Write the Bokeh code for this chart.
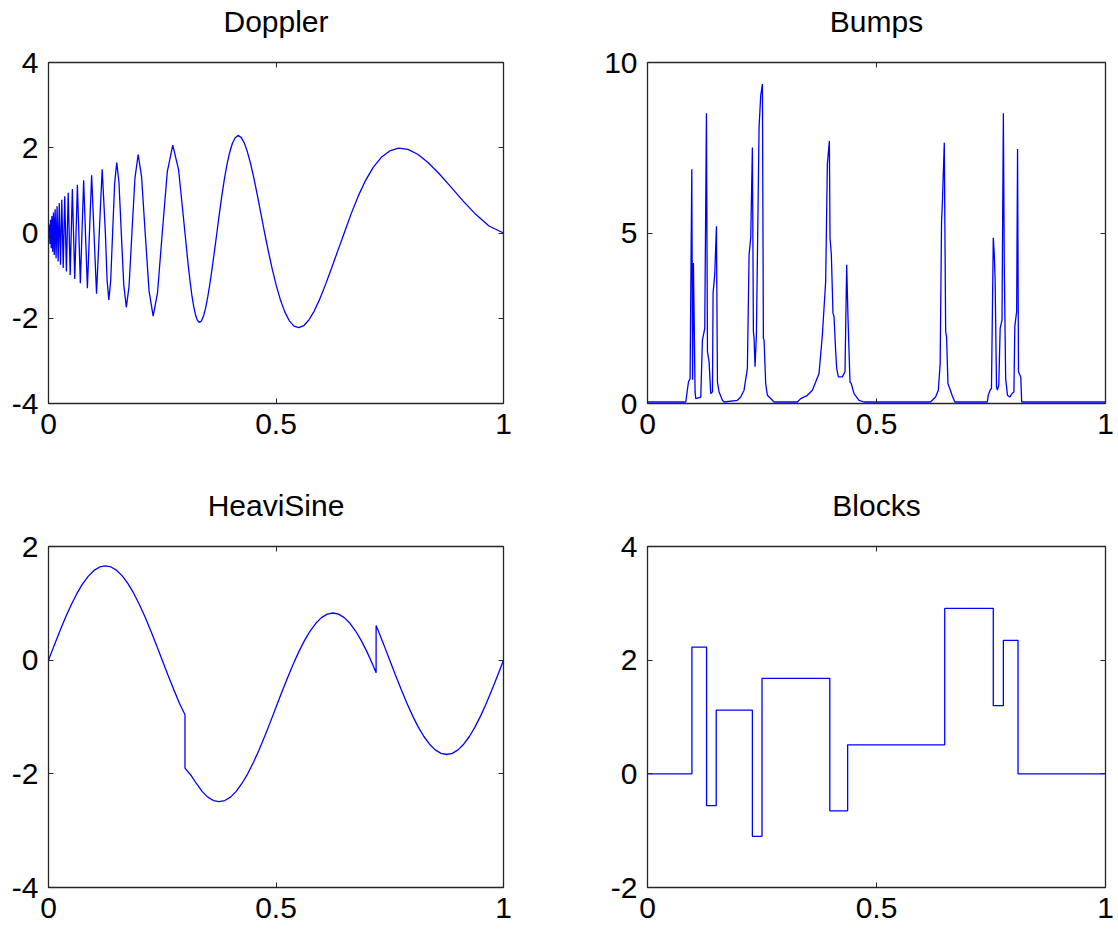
from bokeh.plotting import figure
from bokeh.layouts import column, row
from bokeh.models import LinearAxis, FixedTicker, Range1d, CustomLabelingPolicy
from bokeh.embed import file_html
from bokeh.resources import INLINE

# ---------------- data ----------------
doppler_t = [0, .0006, .00122, .00185, .0025, .00316, .00385, .00455, .00526, .006,
             .00676, .00753, .00833, .00915, .01, .01087, .01176, .01269, .01364, .01462,
             .015625, .01667, .01774, .01885, .02, .02119, .02241, .02368, .025, .02636,
             .02778, .02925, .03077, .03235, .034, .03571, .0375, .03936, .0413, .04333,
             .04545, .04767, .05, .05244, .055, .05769, .06053, .06351, .06667, .07,
             .07353, .07727, .08125, .08548, .09, .09483, .1, .10556, .11154, .118,
             .125, .12872, .13261, .13667, .14091, .14535, .15, .15488, .16, .16538,
             .17105, .17703, .18333, .19, .19706, .20455, .2125, .22097, .23, .23966,
             .25, .26111, .27308, .286,
             .30, .30368, .30745, .31129, .31522, .31923, .32333, .32753, .33182, .33621,
             .3407, .34529, .35, .35482, .35976, .36481, .37, .37532, .38077, .38636,
             .39211, .398, .40405, .41027, .41667, .42324, .43, .43696, .44412, .45149,
             .45909, .46692, .475, .48333, .49194, .50082, .51, .51949, .52931, .53947,
             .55, .56091, .57222, .58396, .59615, .60882, .622, .63571, .65, .66489,
             .68043, .69667, .71364, .7314, .75, .76951, .79, .81154, .83421, .85811,
             .88333, .91, .93824, .96818, 1.0]
doppler_y = [0, -.113, 0, .199, 0, -.260, 0, .312, 0, -.358,
             0, .400, 0, -.441, 0, .480, 0, -.518, 0, .556,
             0, -.593, 0, .630, 0, -.667, 0, .704, 0, -.742,
             0, .780, 0, -.819, 0, .859, 0, -.900, 0, .943,
             0, -.987, 0, 1.032, 0, -1.080, 0, 1.129, 0, -1.181,
             0, 1.236, 0, -1.295, 0, 1.357, 0, -1.423, 0, 1.494,
             0, -1.096, -1.570, -1.125, 0, 1.154, 1.653, 1.184, 0, -1.216,
             -1.743, -1.250, 0, 1.284, 1.842, 1.321, 0, -1.358, -1.948, -1.397,
             0, 1.438, 2.063, 1.479,
             0, -.400, -.79, -1.147, -1.47, -1.728, -1.93, -2.053, -2.10, -2.066,
             -1.95, -1.763, -1.50, -1.185, -.82, -.419, 0, .437, .86, 1.252,
             1.60, 1.884, 2.10, 2.234, 2.29, 2.244, 2.12, 1.910, 1.63, 1.280,
             .88, .451, 0, -.436, -.855, -1.241, -1.580, -1.856, -2.060, -2.184,
             -2.22, -2.175, -2.042, -1.831, -1.551, -1.211, -.829, -.419, 0, .443,
             .859, 1.230, 1.539, 1.775, 1.926, 1.989, 1.961, 1.847, 1.655, 1.397,
             1.093, .766, .444, .165, 0]

bumps_t = [0, .0836, .0894, .0930, .0967, .0985, .1003, .1039, .1054, .1163,
           .1199, .1250, .1287, .1309, .1345, .1381, .1418, .1432, .1468, .1505,
           .1527, .1563, .1636, .1672, .1963, .2036, .2108, .2181, .2218, .2254,
           .2290, .2312, .2327, .2348, .2378, .2436, .2472, .2509, .2530, .2545,
           .2581, .2618, .2727, .2763, .3272, .3345, .3490, .3600, .3672, .3745,
           .3818, .3890, .3927, .3971, .3985, .4014, .4050, .4072, .4109, .4131,
           .4167, .4254, .4312, .4349, .4378, .4421, .4450, .4509, .4618, .4727,
           .6180, .6290, .6350, .6390, .6420, .6440, .6480, .6510, .6530, .6560,
           .6600, .6650, .6710, .7420, .7440, .7480, .7510, .7550, .7570, .7590,
           .7620, .7640, .7670, .7700, .7740, .7770, .7790, .7820, .7860, .7910,
           .7960, .8000, .8020, .8060, .8080, .8100, .8150, .8170, 1.0]
bumps_y = [.044, .044, .63, .73, 6.87, .70, 4.12, .34, .14, .19,
           1.86, 2.20, 8.51, 1.52, 1.22, .29, .34, 3.24, 3.78, 5.20,
           .63, .34, .093, .044, .093, .19, .39, 1.03, 4.36, 4.86,
           7.51, 2.11, 1.91, 1.08, 2.01, 8.10, 9.03, 9.37, 1.91, 1.86,
           .58, .24, .093, .044, .044, .142, .24, .39, .63, .88,
           2.01, 3.58, 7.02, 7.70, 4.86, 4.36, 2.65, 2.55, 1.52, 1.03,
           .78, .78, .93, 4.07, 2.50, .63, .58, .29, .093, .044,
           .044, .191, .39, 1.17, 5.30, 5.94, 7.65, 2.11, 1.96, .58,
           .44, .24, .044, .044, .24, .39, .44, 4.86, 4.41, 3.63,
           .49, .39, .54, 2.20, 2.45, 8.51, 4.02, .73, .24, .19,
           .29, .34, 2.25, 2.70, 7.46, .93, .78, .044, .044]

heavi_t = [0, .0125, .025, .0375, .05, .0625, .075, .0875, .1, .1125, .125, .1375,
           .15, .1625, .175, .1875, .2, .2125, .225, .2375, .25, .2625, .275, .2875,
           .3, .3, .3125, .325, .3375, .35, .3625, .375, .3875, .4, .4125, .425,
           .4375, .45, .4625, .475, .4875, .5, .5125, .525, .5375, .55, .5625, .575,
           .5875, .6, .6125, .625, .6375, .65, .6625, .675, .6875, .7, .7125, .72,
           .72, .725, .7375, .75, .7625, .775, .7875, .8, .8125, .825, .8375, .85,
           .8625, .875, .8875, .9, .9125, .925, .9375, .95, .9625, .975, .9875, 1.0]
heavi_y = [0, .260, .513, .754, .976, 1.174, 1.343, 1.479, 1.579, 1.640, 1.660, 1.640,
           1.579, 1.479, 1.343, 1.174, .976, .754, .513, .260, 0, -.260, -.513, -.754,
           -.96, -1.90, -2.02, -2.17, -2.309, -2.41, -2.47, -2.49, -2.47, -2.41, -2.309, -2.17,
           -2.004, -1.806, -1.584, -1.343, -1.090, -.830, -.570, -.317, -.076, .146, .344, .513,
           .649, .749, .810, .830, .810, .749, .649, .513, .344, .146, -.076, -.22,
           .611, .513, .260, 0, -.260, -.513, -.754, -.976, -1.174, -1.343, -1.479, -1.579,
           -1.640, -1.660, -1.640, -1.579, -1.479, -1.343, -1.174, -.976, -.754, -.513, -.260, 0]

blocks_t = [0, .097, .129, .150, .229, .250, .398, .437, .649, .755, .777, .809, 1.0]
blocks_y = [0, 2.23, -.56, 1.12, -1.10, 1.68, -.65, .51, 2.91, 1.20, 2.35, 0, 0]

titles = ["Doppler", "Bumps", "HeaviSine", "Blocks"]
x_ticks = [0, 0.5, 1]
x_tick_labels = ["0", "0.5", "1"]
y_limits = [(-4, 4), (0, 10), (-4, 2), (-2, 4)]
y_ticks = [[-4, -2, 0, 2, 4], [0, 5, 10], [-4, -2, 0, 2], [-2, 0, 2, 4]]
y_tick_labels = [["-4", "-2", "0", "2", "4"], ["0", "5", "10"],
                 ["-4", "-2", "0", "2"], ["-2", "0", "2", "4"]]

FONT = "Liberation Sans"
AX = "#262626"


def make(i, fw, left, right, top, bottom):
    lo, hi = y_limits[i]
    p = figure(frame_width=fw, frame_height=341, x_range=Range1d(0, 1),
               y_range=Range1d(lo, hi), output_backend="svg", toolbar_location=None,
               min_border_left=left, min_border_right=right, min_border_top=top,
               min_border_bottom=bottom, x_axis_location=None, y_axis_location=None)
    p.xgrid.visible = False
    p.ygrid.visible = False
    p.outline_line_color = AX
    p.outline_line_width = 1.3
    p.background_fill_color = "white"
    p.border_fill_color = "white"

    xo = {t: l for t, l in zip(x_ticks, x_tick_labels)}
    yo = {t: l for t, l in zip(y_ticks[i], y_tick_labels[i])}
    for loc, ticks, over, show in (("below", x_ticks, xo, True), ("above", x_ticks, xo, False),
                                   ("left", y_ticks[i], yo, True), ("right", y_ticks[i], yo, False)):
        ax = LinearAxis(ticker=FixedTicker(ticks=ticks))
        ax.major_label_overrides = over
        ax.axis_line_color = None
        ax.major_tick_in = 5
        ax.major_tick_out = 0
        ax.major_tick_line_color = AX
        ax.minor_tick_line_color = None
        if show:
            ax.major_label_text_font = FONT
            ax.major_label_text_font_size = "30px"
            ax.major_label_text_color = "black"
            ax.major_label_standoff = 10
        else:
            ax.major_label_policy = CustomLabelingPolicy(code="return new Set()")
            ax.major_label_standoff = 0
        if loc == "above":
            # the subplot title sits on the top (mirror) axis
            ax.axis_label = titles[i]
            ax.axis_label_text_font = FONT
            ax.axis_label_text_font_size = "30px"
            ax.axis_label_text_font_style = "normal"
            ax.axis_label_text_color = "black"
            ax.axis_label_standoff = 14
        p.add_layout(ax, loc)
    return p


p1 = make(0, 455, 48, 40, 62, 81)
p1.line(doppler_t, doppler_y, line_color="#0000FF", line_width=1.3)
p2 = make(1, 458, 104, 13, 62, 81)
p2.line(bumps_t, bumps_y, line_color="#0000FF", line_width=1.3)
p3 = make(2, 455, 48, 40, 62, 43)
p3.line(heavi_t, heavi_y, line_color="#0000FF", line_width=1.3)
p4 = make(3, 458, 104, 13, 62, 43)
p4.step(blocks_t, blocks_y, mode="after", line_color="#0000FF", line_width=1.3)

layout = column(row(p1, p2, spacing=0), row(p3, p4, spacing=0), spacing=0)
open("out.html", "w").write(file_html(layout, INLINE))
